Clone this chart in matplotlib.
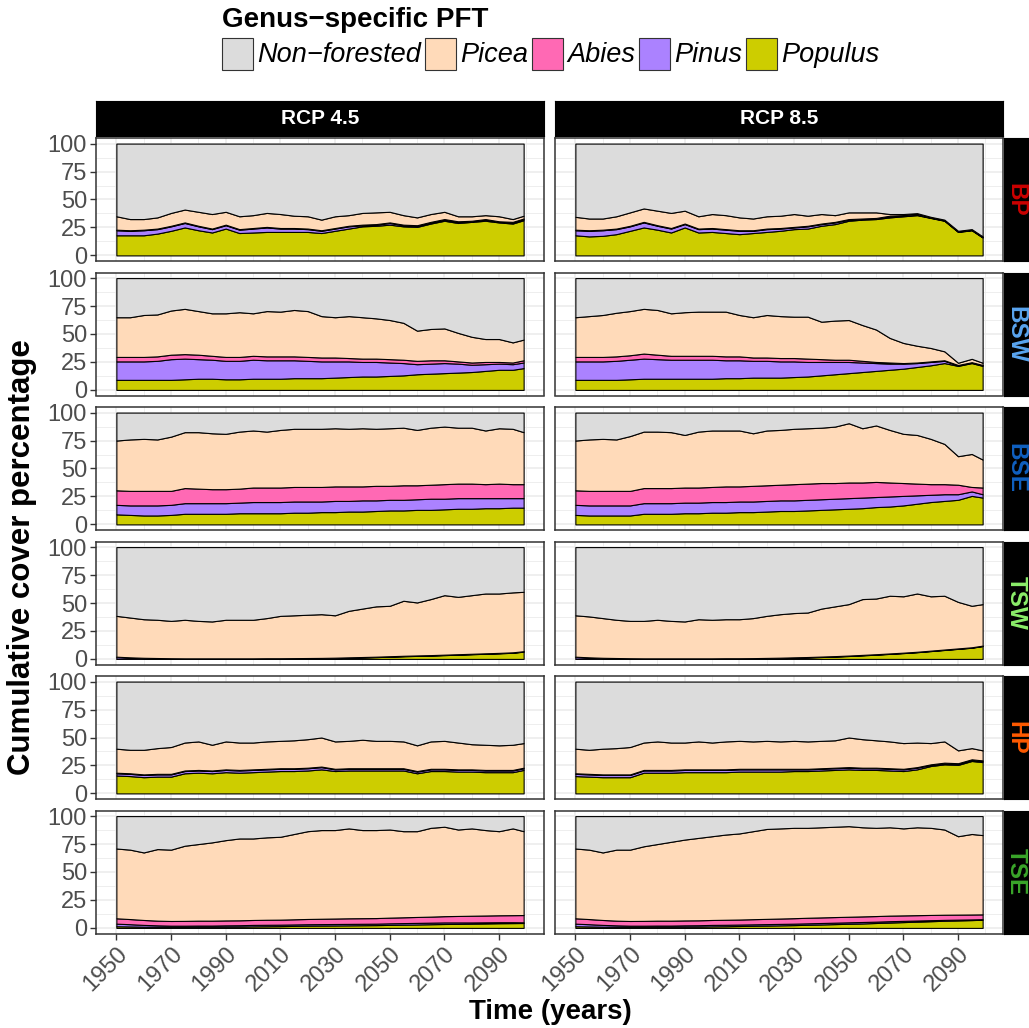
import numpy as np
import matplotlib.pyplot as plt
from matplotlib.patches import Rectangle

plt.rcParams['font.family'] = ['Liberation Sans', 'DejaVu Sans']

# time axis (years)
years = [1950, 1955, 1960, 1965, 1970, 1975, 1980, 1985, 1990, 1995,
         2000, 2005, 2010, 2015, 2020, 2025, 2030, 2035, 2040, 2045,
         2050, 2055, 2060, 2065, 2070, 2075, 2080, 2085, 2090, 2095, 2099]

regions = ['BP', 'BSW', 'BSE', 'TSW', 'HP', 'TSE']
region_colors = ['#CC0000', '#5AA5F0', '#1060C0', '#8CEE6A', '#FF5A00', '#3AA52A']
scenarios = ['RCP 4.5', 'RCP 8.5']
legend_names = ['Non\u2212forested', 'Picea', 'Abies', 'Pinus', 'Populus']
legend_colors = ['#DCDCDC', '#FFDAB9', '#FF69B4', '#AB82FF', '#CDCD00']

# cover (%) per genus
bp45_populus = [18, 18, 18, 19.5, 22, 25, 22.5, 20.5, 24, 20, 20.5, 21, 21, 21, 21, 20, 22, 24, 26, 26.5, 27.5, 26, 25.5, 28.5, 31, 29, 30, 31, 29.5, 28.5, 31.5]
bp45_pinus = [4.5, 4, 4.5, 4, 4, 4, 3.5, 3, 3, 3, 3.5, 4, 3, 3, 2.5, 2, 2, 2, 1, 1, 1.5, 1, 1, 1, 1, 1, 0.5, 1, 0.5, 1, 1]
bp45_abies = [0.5, 0.5, 0.5, 0.5, 0.5, 0.5, 0.5, 0.5, 0.5, 0.5, 0.5, 0.5, 0.5, 0.5, 0.5, 0.5, 0.5, 0.5, 0.5, 0.5, 0.5, 0.5, 0.5, 0.5, 0.5, 0.5, 0.5, 0.5, 0.5, 0.5, 0.5]
bp45_picea = [12, 10, 9.5, 10, 11.5, 11.5, 12.5, 13, 11.5, 11.5, 11.5, 12.5, 12.5, 11, 11, 9.5, 10.5, 9.5, 10.5, 10.5, 9.5, 8.5, 7, 7, 6.5, 4.5, 4, 3.5, 4.5, 2.5, 2.5]

bp85_populus = [18, 17, 17.5, 19, 22, 25, 23, 20.5, 25, 20.5, 21, 20, 19, 20, 21, 22, 23.5, 24, 26.5, 28, 31, 32, 32.5, 34, 35, 36, 33.5, 31, 21, 22.5, 16]
bp85_pinus = [4.5, 5, 5, 4.5, 4, 4.5, 3.5, 3.5, 3, 3, 3, 3, 3, 2, 2.5, 2, 1.5, 2, 1.5, 1.5, 1, 0.5, 0.5, 1, 0.5, 0.5, 0.3, 0.3, 0.3, 0.3, 0.3]
bp85_abies = [0.5, 0.5, 0.5, 0.5, 0.5, 0.5, 0.5, 0.5, 0.5, 0.5, 0.5, 0.5, 0.5, 0.5, 0.5, 0.5, 0.5, 0.5, 0.5, 0.5, 0.5, 0.5, 0.5, 0.5, 0.5, 0.3, 0.2, 0.2, 0.2, 0.2, 0.2]
bp85_picea = [11.5, 10.5, 10, 11, 12, 12, 13, 13.5, 11.5, 11, 12.5, 12.5, 11.5, 10.5, 11, 11, 11.5, 9, 8.5, 6, 6, 5.5, 5, 1.5, 1, 1, 0.5, 0.5, 0.5, 0.5, 0.5]

bsw45_populus = [9, 9, 9, 9, 9, 9.5, 10, 10, 9.5, 9.5, 10, 10, 10, 10.5, 10.5, 10.5, 11, 11.5, 12, 12, 12.5, 13, 14, 14.5, 15, 15.5, 16, 17, 18, 18, 19.5]
bsw45_pinus = [16.5, 16.5, 16.5, 17, 18.5, 18.5, 17.5, 17, 16.5, 16.5, 17, 16.5, 16.5, 16, 15.5, 15, 14.5, 14, 13, 13, 12, 11, 9, 9, 9, 8, 6.5, 6, 5.5, 5, 5]
bsw45_abies = [4, 4, 4, 4, 4, 4, 4, 3.5, 3.5, 3.5, 3.5, 3.5, 3.5, 3.5, 3.5, 3.5, 3.5, 3, 3, 3, 3, 3, 3, 3, 2.5, 2, 2, 2, 1.5, 1.5, 2]
bsw45_picea = [35.5, 35.5, 37.5, 37.5, 39.5, 40.5, 39, 38, 39, 40, 38, 40.5, 40, 41.5, 41, 37, 36, 37.5, 37, 36, 35, 33, 27, 28, 28.5, 25.5, 23, 20.5, 20.5, 18, 18.5]

bsw85_populus = [9, 9, 9, 9, 9.5, 10, 10, 10, 10, 10, 10, 10.5, 10.5, 11, 11, 11, 11.5, 12, 13, 14, 15, 16, 17, 18, 19, 20.5, 22, 24, 21.5, 24, 21.5]
bsw85_pinus = [16.5, 16.5, 16.5, 17, 17.5, 18, 17.5, 17, 17, 17, 17, 16, 16, 15, 15, 14.5, 14, 13, 12, 11, 10, 8.5, 7, 5.5, 4.5, 3.5, 3, 2, 0.5, 0.5, 0.5]
bsw85_abies = [4, 4, 4, 4, 4, 4.5, 4, 3.5, 3.5, 3.5, 3.5, 3.5, 3.5, 3, 3, 3, 3, 3, 2.5, 2, 2, 1.5, 1, 1, 0.5, 0.5, 0.5, 0.5, 0.3, 0.3, 0.3]
bsw85_picea = [35.5, 36.5, 37.5, 39, 39.5, 40, 40, 38, 39, 39.5, 39.5, 40, 37, 36, 38, 37.5, 37, 37.5, 33.5, 35, 35.5, 32, 29, 22, 18, 15, 12, 8, 2, 3, 2]

bse45_populus = [9, 8.5, 8, 8, 8.5, 9.5, 9.5, 9.5, 9.5, 10, 10, 10, 10, 10.5, 10.5, 11, 11, 11.5, 11.5, 12, 12.5, 12.5, 13, 13, 13.5, 14, 14, 14.5, 14.5, 15, 15]
bse45_pinus = [8.5, 8.5, 9, 9, 9, 9.5, 9.5, 9.5, 9.5, 9.5, 10, 10, 10, 10, 10, 9.5, 10, 9.5, 10, 9.5, 9.5, 9.5, 9.5, 10, 9.5, 9.5, 9.5, 9, 9, 8.5, 8.5]
bse45_abies = [13, 13, 13, 13, 12.5, 13.5, 13, 12.5, 12.5, 12.5, 13, 13, 13, 13, 13, 13, 13, 13, 12.5, 13, 12.5, 13, 12.5, 12.5, 13, 13, 13, 12.5, 13, 12.5, 12.5]
bse45_picea = [44.5, 46, 46.5, 46, 48.5, 50, 50.5, 50, 49.5, 51, 51, 50, 51.5, 52, 52, 52, 52, 51.5, 52, 51, 51.5, 51.5, 49.5, 51, 51.5, 50, 50, 48, 49.5, 49.5, 46.5]

bse85_populus = [8.5, 8, 8, 8, 8, 9.5, 9.5, 9.5, 10, 10, 10.5, 10.5, 11, 11, 11.5, 12, 12, 12.5, 13, 13.5, 14, 14.5, 15.5, 16, 17, 18.5, 20, 21, 22, 25.5, 24]
bse85_pinus = [9, 9, 9, 9, 9, 9.5, 9.5, 9.5, 9.5, 9.5, 9.5, 9.5, 9.5, 9.5, 9.5, 9.5, 9.5, 9.5, 9.5, 9.5, 9.5, 9.5, 9, 9, 8.5, 7.5, 6.5, 6, 5, 4, 3]
bse85_abies = [13, 13, 13, 13, 13, 13.5, 13.5, 13.5, 13.5, 13.5, 13.5, 14, 13.5, 14, 14, 14, 14.5, 14.5, 14.5, 14, 14, 13.5, 13.5, 12.5, 11.5, 10.5, 9.5, 9, 8.5, 4, 6]
bse85_picea = [44.5, 46, 46.5, 46, 49, 50.5, 50.5, 50, 47, 50, 50.5, 50, 50, 47, 49, 49, 49.5, 49.5, 49.5, 50.5, 53, 48.5, 50.5, 47, 44, 43.5, 40.5, 36, 25.5, 29.5, 25]

tsw45_populus = [0.3, 0.2, 0.1, 0.1, 0.1, 0.1, 0.1, 0.1, 0.1, 0.1, 0.1, 0.2, 0.2, 0.3, 0.4, 0.5, 0.7, 1, 1.3, 1.6, 2, 2.4, 2.7, 3, 3.4, 3.8, 4.2, 4.6, 5, 5.5, 6.5]
tsw45_pinus = [1.5, 1, 0.7, 0.5, 0.3, 0.2, 0.2, 0.2, 0.2, 0.2, 0.2, 0.2, 0.2, 0.2, 0.2, 0.2, 0.2, 0.2, 0.2, 0.2, 0.2, 0.2, 0.2, 0.2, 0.2, 0.2, 0.2, 0.2, 0.2, 0.2, 0.2]
tsw45_abies = [0.2, 0.2, 0.2, 0.2, 0.2, 0.2, 0.2, 0.2, 0.2, 0.2, 0.2, 0.2, 0.2, 0.2, 0.2, 0.2, 0.2, 0.2, 0.2, 0.2, 0.2, 0.2, 0.2, 0.2, 0.2, 0.2, 0.2, 0.2, 0.2, 0.2, 0.2]
tsw45_picea = [36.5, 35.6, 34.5, 34.2, 33.4, 34.5, 33.5, 33, 34.5, 34.5, 34.5, 35.9, 37.9, 38.3, 38.7, 39.1, 37.9, 41.6, 43.3, 45, 45.1, 49.2, 47.4, 50.1, 53.2, 51.3, 52.4, 53.5, 53.1, 53.6, 53.1]

tsw85_populus = [0.3, 0.2, 0.1, 0.1, 0.1, 0.1, 0.1, 0.1, 0.1, 0.1, 0.1, 0.2, 0.2, 0.3, 0.5, 0.7, 1, 1.3, 1.7, 2.1, 2.6, 3.2, 3.8, 4.5, 5.2, 6, 7, 8, 9, 10, 11.5]
tsw85_pinus = [1.5, 1, 0.7, 0.5, 0.3, 0.2, 0.2, 0.2, 0.2, 0.2, 0.2, 0.2, 0.2, 0.2, 0.2, 0.2, 0.2, 0.2, 0.2, 0.2, 0.2, 0.2, 0.2, 0.2, 0.2, 0.2, 0.2, 0.2, 0.2, 0.2, 0.2]
tsw85_abies = [0.2, 0.2, 0.2, 0.2, 0.2, 0.2, 0.2, 0.2, 0.2, 0.2, 0.2, 0.2, 0.2, 0.2, 0.2, 0.2, 0.2, 0.2, 0.2, 0.2, 0.2, 0.2, 0.2, 0.2, 0.2, 0.2, 0.2, 0.2, 0.2, 0.2, 0.2]
tsw85_picea = [37, 36.6, 35.5, 34.2, 33.4, 33.5, 34.5, 33.5, 33, 35, 34.5, 34.9, 34.9, 35.8, 37.6, 38.9, 39.6, 39.8, 42.9, 44.5, 46, 49.9, 49.8, 51.6, 50.4, 52.1, 48.6, 48.1, 41.6, 37.1, 37.1]

hp45_populus = [16, 15.5, 14.5, 15, 15, 18, 18.5, 18, 19, 18.5, 19, 19.5, 20, 20, 20.5, 21.5, 20, 20.5, 20.5, 20.5, 20.5, 20.5, 18, 20, 20, 19.5, 19.5, 19, 19, 19, 21]
hp45_pinus = [2, 2, 2, 2, 2, 2, 2, 2, 2, 2, 2, 2, 2, 2, 2, 2, 1.5, 1.5, 1.5, 1.5, 1.5, 1.5, 1.5, 1.5, 1.5, 1.5, 1.5, 1.5, 1.5, 1.5, 1.5]
hp45_abies = [0.5, 0.5, 0.5, 0.5, 0.5, 0.5, 0.5, 0.5, 0.5, 0.5, 0.5, 0.5, 0.5, 0.5, 0.5, 0.5, 0.5, 0.5, 0.5, 0.5, 0.5, 0.5, 0.5, 0.5, 0.5, 0.5, 0.5, 0.5, 0.5, 0.5, 0.5]
hp45_picea = [21.5, 21, 22, 23, 24, 25, 25.5, 23, 25, 24.5, 24, 24.5, 24.5, 25, 25.5, 26, 24.5, 24.5, 25.5, 24.5, 24.5, 24, 23, 24.5, 25, 24, 22.5, 22.5, 22, 22.5, 22]

hp85_populus = [15.5, 15, 14.5, 14.5, 14.5, 18.5, 18.5, 18.5, 19, 19, 19, 19, 19.5, 19.5, 19.5, 19.5, 20, 20, 20.5, 21, 21.5, 21, 21, 20.5, 20, 21.5, 24.5, 26, 25.5, 29, 28]
hp85_pinus = [2, 2, 2, 2, 2, 2, 2, 2, 2, 2, 2, 2, 2, 2, 2, 2, 1.5, 1.5, 1.5, 1.5, 1.5, 1.5, 1.5, 1.5, 1.5, 1.5, 1, 1, 1, 1, 1]
hp85_abies = [0.5, 0.5, 0.5, 0.5, 0.5, 0.5, 0.5, 0.5, 0.5, 0.5, 0.5, 0.5, 0.5, 0.5, 0.5, 0.5, 0.5, 0.5, 0.5, 0.5, 0.5, 0.5, 0.5, 0.5, 0.5, 0.5, 0.5, 0.5, 0.5, 0.5, 0.5]
hp85_picea = [22, 21.5, 23, 23.5, 24.5, 24.5, 25.5, 24.5, 24, 25, 24, 25, 25, 24.5, 25, 24.5, 25, 24.5, 24.5, 24.5, 26.5, 25.5, 24.5, 24, 23, 22, 19, 19, 11.5, 10, 9]

tse45_populus = [1.5, 1.3, 1.1, 1, 0.9, 0.9, 1, 1, 1.1, 1.2, 1.4, 1.5, 1.6, 1.8, 2, 2.1, 2.2, 2.3, 2.4, 2.5, 2.7, 2.9, 3.1, 3.3, 3.5, 3.6, 3.8, 4, 4.2, 4.3, 4.4]
tse45_pinus = [2.3, 2, 1.6, 1.3, 1.1, 1.1, 1.1, 1.1, 1.2, 1.2, 1.3, 1.3, 1.3, 1.3, 1.3, 1.3, 1.3, 1.3, 1.3, 1.3, 1.4, 1.4, 1.4, 1.4, 1.4, 1.3, 1.1, 1, 0.9, 0.8, 0.6]
tse45_abies = [4.8, 4.6, 4.4, 4.2, 4.2, 4.3, 4.4, 4.4, 4.4, 4.4, 4.4, 4.5, 4.5, 4.6, 4.7, 4.8, 4.9, 5, 5, 5, 5.1, 5.2, 5.3, 5.4, 5.6, 5.8, 6, 6.1, 6.2, 6.3, 6.5]
tse45_picea = [62.4, 62.1, 60.4, 64, 63.8, 67.2, 68.5, 70, 71.8, 73.2, 72.9, 73.7, 74.1, 76.3, 78.5, 79.3, 79.1, 80.4, 78.8, 78.7, 78.8, 77, 76.7, 79.4, 80, 77.3, 78.1, 76.4, 75.2, 77.6, 75]

tse85_populus = [1.5, 1.3, 1.1, 1, 0.9, 0.9, 1, 1, 1.1, 1.2, 1.4, 1.5, 1.7, 1.9, 2.1, 2.3, 2.5, 2.8, 3.1, 3.4, 3.7, 4, 4.4, 4.8, 5.2, 5.6, 6, 6.4, 6.7, 7, 7.3]
tse85_pinus = [2.3, 2, 1.6, 1.3, 1.1, 1.1, 1.1, 1.1, 1.2, 1.2, 1.3, 1.3, 1.3, 1.3, 1.3, 1.3, 1.3, 1.3, 1.3, 1.3, 1.3, 1.3, 1.2, 1.2, 1.1, 1, 0.9, 0.8, 0.7, 0.6, 0.5]
tse85_abies = [4.8, 4.6, 4.4, 4.2, 4.2, 4.3, 4.4, 4.4, 4.4, 4.4, 4.4, 4.5, 4.5, 4.6, 4.7, 4.8, 4.9, 5, 5, 5, 5, 5, 5, 5, 4.9, 4.8, 4.7, 4.6, 4.5, 4.4, 4.3]
tse85_picea = [62.4, 62.1, 60.4, 63.5, 63.8, 66.7, 68.5, 70.5, 72.3, 73.7, 74.9, 76.2, 77, 78.7, 80.4, 80.6, 80.8, 80.4, 80.6, 80.8, 81, 79.7, 78.9, 79, 77.8, 78.6, 77.9, 76.2, 70.1, 72, 70.9]

# stacking order bottom -> top: Populus, Pinus, Abies, Picea
panel_data = {
    ('BP', 0): (bp45_populus, bp45_pinus, bp45_abies, bp45_picea),
    ('BP', 1): (bp85_populus, bp85_pinus, bp85_abies, bp85_picea),
    ('BSW', 0): (bsw45_populus, bsw45_pinus, bsw45_abies, bsw45_picea),
    ('BSW', 1): (bsw85_populus, bsw85_pinus, bsw85_abies, bsw85_picea),
    ('BSE', 0): (bse45_populus, bse45_pinus, bse45_abies, bse45_picea),
    ('BSE', 1): (bse85_populus, bse85_pinus, bse85_abies, bse85_picea),
    ('TSW', 0): (tsw45_populus, tsw45_pinus, tsw45_abies, tsw45_picea),
    ('TSW', 1): (tsw85_populus, tsw85_pinus, tsw85_abies, tsw85_picea),
    ('HP', 0): (hp45_populus, hp45_pinus, hp45_abies, hp45_picea),
    ('HP', 1): (hp85_populus, hp85_pinus, hp85_abies, hp85_picea),
    ('TSE', 0): (tse45_populus, tse45_pinus, tse45_abies, tse45_picea),
    ('TSE', 1): (tse85_populus, tse85_pinus, tse85_abies, tse85_picea),
}
stack_colors = ['#CDCD00', '#AB82FF', '#FF69B4', '#FFDAB9']
nonforest_color = '#DCDCDC'

W, H = 1029, 1028
fig = plt.figure(figsize=(W / 100, H / 100), dpi=100)


def px_axes(x0, y0, x1, y1):
    return fig.add_axes([x0 / W, 1 - y1 / H, (x1 - x0) / W, (y1 - y0) / H])


col_x = [(96, 544), (555, 1003)]
row_top, row_step, row_h = 138, 134.5, 123
grid_col = '#EBEBEB'
dark = '#333333'

for r, reg in enumerate(regions):
    top_px = row_top + r * row_step
    for c in range(2):
        x0, x1 = col_x[c]
        ax = px_axes(x0, top_px, x1, top_px + row_h)
        ax.set_xlim(1942.55, 2106.45)
        ax.set_ylim(-5, 105)
        ax.set_xticks([1950, 1970, 1990, 2010, 2030, 2050, 2070, 2090])
        ax.set_xticks([1960, 1980, 2000, 2020, 2040, 2060, 2080, 2100], minor=True)
        ax.set_yticks([0, 25, 50, 75, 100])
        ax.set_yticks([12.5, 37.5, 62.5, 87.5], minor=True)
        ax.grid(which='major', color=grid_col, lw=1.1)
        ax.grid(which='minor', color=grid_col, lw=0.6)
        ax.set_axisbelow(True)
        for sp in ax.spines.values():
            sp.set_color(dark)
            sp.set_linewidth(1.1)
        ax.tick_params(which='minor', length=0)
        ax.tick_params(which='major', length=4.5, width=1, color=dark,
                       labelsize=17, labelcolor='#4D4D4D', pad=2)

        base = np.zeros(len(years))
        for vals, col in zip(panel_data[(reg, c)], stack_colors):
            top = base + np.array(vals)
            ax.fill_between(years, base, top, facecolor=col,
                            edgecolor='black', lw=0.8, zorder=2)
            base = top
        ax.fill_between(years, base, 100, facecolor=nonforest_color,
                        edgecolor='black', lw=0.8, zorder=2)

        if c == 1:
            ax.tick_params(axis='y', left=False, labelleft=False)
        if r < len(regions) - 1:
            ax.tick_params(axis='x', bottom=False, labelbottom=False)
        else:
            ax.set_xticklabels([str(v) for v in ax.get_xticks()],
                               rotation=45, ha='right', va='top',
                               rotation_mode='anchor')

        if r == 0:
            sx = px_axes(x0, 101, x1, 136)
            sx.set_facecolor('black')
            sx.set_xticks([])
            sx.set_yticks([])
            sx.text(0.5, 0.5, scenarios[c], color='white', fontsize=15,
                    fontweight='bold', ha='center', va='center',
                    transform=sx.transAxes)

    sy = px_axes(1004, top_px, 1029, top_px + row_h)
    sy.set_facecolor('black')
    sy.set_xticks([])
    sy.set_yticks([])
    sy.text(0.47, 0.5, reg, color=region_colors[r], fontsize=17.5,
            fontweight='bold', rotation=-90, ha='center', va='center',
            transform=sy.transAxes)

# axis titles
fig.text(22 / W, 1 - 557 / H, 'Cumulative cover percentage', rotation=90,
         ha='center', va='center', fontsize=22.5, fontweight='bold')
fig.text(550 / W, 1 - 1012 / H, 'Time (years)', ha='center', va='center',
         fontsize=20, fontweight='bold')

# legend on top
fig.text(222 / W, 1 - 20 / H, 'Genus\u2212specific PFT', ha='left', va='center',
         fontsize=20, fontweight='bold')
fig.canvas.draw()
renderer = fig.canvas.get_renderer()
x = 222
for name, col in zip(legend_names, legend_colors):
    fig.add_artist(Rectangle((x / W, 1 - 70 / H), 31 / W, 32 / H,
                             facecolor=col, edgecolor=dark, lw=0.8,
                             transform=fig.transFigure))
    t = fig.text((x + 35) / W, 1 - 55 / H, name, ha='left', va='center',
                 fontsize=19.5, style='italic')
    bb = t.get_window_extent(renderer)
    x = bb.x1 + 4

fig.savefig('out.png', dpi=100)
